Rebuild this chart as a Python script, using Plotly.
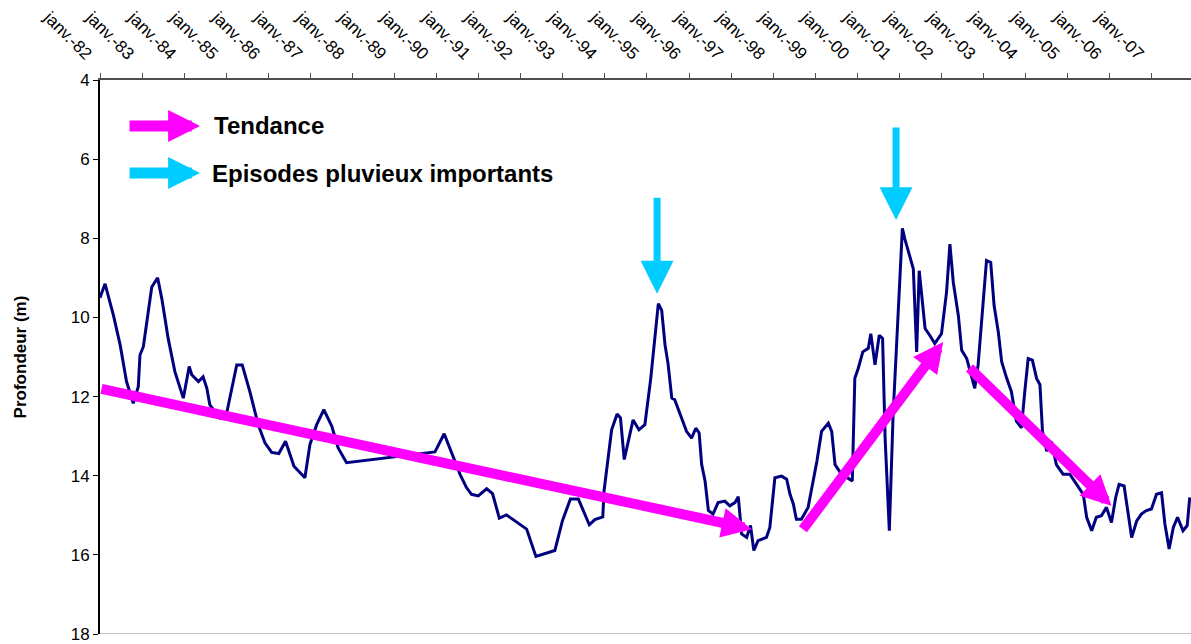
import plotly.graph_objects as go

# ---- data (decimal year, depth in m) ----
years = [
    1982.00, 1982.12, 1982.32, 1982.48, 1982.63, 1982.79, 1982.91, 1982.95, 1983.03, 1983.23,
    1983.37, 1983.47, 1983.62, 1983.78, 1983.98, 1984.12, 1984.18, 1984.34, 1984.45, 1984.54,
    1984.61, 1984.85, 1985.01, 1985.25, 1985.38, 1985.56, 1985.76, 1985.92, 1986.08, 1986.25,
    1986.41, 1986.61, 1986.87, 1986.99, 1987.15, 1987.32, 1987.51, 1987.66, 1987.86, 1988.89,
    1989.45, 1989.96, 1990.18, 1990.36, 1990.56, 1990.71, 1990.83, 1990.99, 1991.19, 1991.33,
    1991.49, 1991.66, 1991.90, 1992.14, 1992.36, 1992.81, 1992.99, 1993.18, 1993.37, 1993.63,
    1993.76, 1993.95, 1993.98, 1994.08, 1994.16, 1994.29, 1994.37, 1994.46, 1994.55, 1994.67,
    1994.81, 1994.95, 1995.09, 1995.27, 1995.35, 1995.43, 1995.50, 1995.59, 1995.66, 1995.82,
    1995.94, 1996.06, 1996.16, 1996.24, 1996.30, 1996.38, 1996.46, 1996.57, 1996.69, 1996.85,
    1996.97, 1997.09, 1997.17, 1997.25, 1997.37, 1997.46, 1997.54, 1997.64, 1997.84, 1997.92,
    1998.04, 1998.20, 1998.32, 1998.40, 1998.48, 1998.55, 1998.67, 1998.83, 1998.95, 1999.04,
    1999.15, 1999.31, 1999.39, 1999.47, 1999.62, 1999.82, 1999.88, 1999.94, 2000.02, 2000.13,
    2000.26, 2000.32, 2000.42, 2000.52, 2000.60, 2000.66, 2000.76, 2000.85, 2000.95, 2001.07,
    2001.13, 2001.33, 2001.41, 2001.47, 2001.53, 2001.61, 2001.72, 2001.84, 2002.00, 2002.12,
    2002.20, 2002.28, 2002.40, 2002.48, 2002.60, 2002.67, 2002.79, 2002.87, 2002.98, 2003.07,
    2003.17, 2003.25, 2003.35, 2003.43, 2003.55, 2003.66, 2003.78, 2003.90, 2003.98, 2004.06,
    2004.16, 2004.26, 2004.34, 2004.40, 2004.50, 2004.61, 2004.73, 2004.89, 2005.05, 2005.21,
    2005.37, 2005.45, 2005.57, 2005.68, 2005.80, 2005.92, 2006.04, 2006.14, 2006.22, 2006.34,
    2006.41, 2006.52, 2006.64, 2006.75, 2006.87, 2006.99, 2007.11, 2007.23, 2007.31, 2007.41,
    2007.51, 2007.61, 2007.74, 2007.84, 2007.90,
]
depth = [
    9.50, 9.15, 9.95, 10.70, 11.62, 12.17, 11.75, 10.95, 10.74, 9.23,
    9.00, 9.53, 10.53, 11.37, 12.04, 11.24, 11.45, 11.62, 11.50, 11.79,
    12.21, 12.54, 12.42, 11.20, 11.20, 11.87, 12.71, 13.17, 13.41, 13.44,
    13.13, 13.76, 14.05, 13.21, 12.71, 12.33, 12.75, 13.30, 13.67, 13.53,
    13.46, 13.40, 12.94, 13.42, 13.97, 14.30, 14.47, 14.51, 14.33, 14.45,
    15.07, 14.99, 15.18, 15.35, 16.04, 15.89, 15.14, 14.59, 14.59, 15.24,
    15.11, 15.04, 14.38, 13.55, 12.84, 12.44, 12.54, 13.59, 13.13, 12.59,
    12.84, 12.71, 11.54, 9.65, 9.82, 10.70, 11.16, 12.04, 12.08, 12.54,
    12.88, 13.05, 12.80, 12.92, 13.72, 14.13, 14.88, 14.97, 14.68, 14.64,
    14.76, 14.68, 14.53, 15.47, 15.56, 15.26, 15.89, 15.64, 15.56, 15.31,
    14.05, 14.01, 14.09, 14.47, 14.72, 15.10, 15.10, 14.80, 14.13, 13.63,
    12.88, 12.67, 12.88, 13.72, 13.96, 14.09, 14.13, 11.54, 11.29, 10.87,
    10.78, 10.41, 11.20, 10.45, 10.53, 13.05, 15.39, 12.46, 10.37, 7.75,
    8.02, 8.77, 10.87, 8.82, 9.44, 10.28, 10.45, 10.66, 10.41, 9.36,
    8.15, 9.11, 9.95, 10.83, 11.04, 11.33, 11.79, 11.20, 9.70, 8.56,
    8.61, 9.70, 10.37, 11.12, 11.54, 11.87, 12.62, 12.79, 11.87, 11.04,
    11.08, 11.54, 11.70, 12.88, 13.38, 13.13, 13.72, 13.96, 13.96, 14.22,
    14.47, 15.05, 15.39, 15.05, 15.01, 14.80, 15.18, 14.55, 14.22, 14.26,
    14.80, 15.56, 15.14, 14.97, 14.88, 14.84, 14.47, 14.43, 15.22, 15.85,
    15.31, 15.05, 15.39, 15.26, 14.55,
]

tick_years = list(range(1982, 2008))
tick_labels = ["janv.-%02d" % (y % 100) for y in tick_years]

# trend arrows: (tail year, tail depth, tip year, tip depth)
trend_tail_x = [1982.00, 1998.68, 2002.63]
trend_tail_y = [11.80, 15.39, 11.24]
trend_tip_x = [1997.49, 2002.04, 2006.04]
trend_tip_y = [15.35, 10.62, 14.76]

# rainfall-event arrows
rain_x = [1995.24, 2000.92]
rain_tail_y = [6.94, 5.16]
rain_tip_y = [9.40, 7.54]

MAGENTA = "#FF00FF"
CYAN = "#00CCFF"
FONT = "Liberation Sans, Arial, sans-serif"

fig = go.Figure()
fig.add_trace(go.Scatter(
    x=years, y=depth, mode="lines",
    line=dict(color="#000080", width=3),
    showlegend=False, hoverinfo="skip",
))

annotations = []
for tx, ty, hx, hy in zip(trend_tail_x, trend_tail_y, trend_tip_x, trend_tip_y):
    annotations.append(dict(
        x=hx, y=hy, ax=tx, ay=ty, xref="x", yref="y", axref="x", ayref="y",
        showarrow=True, arrowhead=2, arrowwidth=10, arrowsize=0.6,
        arrowcolor=MAGENTA, text="",
    ))
for rx, ty, hy in zip(rain_x, rain_tail_y, rain_tip_y):
    annotations.append(dict(
        x=rx, y=hy, ax=rx, ay=ty, xref="x", yref="y", axref="x", ayref="y",
        showarrow=True, arrowhead=2, arrowwidth=7, arrowsize=0.94,
        arrowcolor=CYAN, text="",
    ))

# legend-like arrows and texts
annotations.append(dict(x=0.0917, y=0.917, xref="paper", yref="paper", ax=-72, ay=0,
                        showarrow=True, arrowhead=2, arrowwidth=11, arrowsize=0.58,
                        arrowcolor=MAGENTA, text=""))
annotations.append(dict(x=0.0917, y=0.832, xref="paper", yref="paper", ax=-72, ay=0,
                        showarrow=True, arrowhead=2, arrowwidth=11, arrowsize=0.58,
                        arrowcolor=CYAN, text=""))
annotations.append(dict(x=0.1027, y=0.917, xref="paper", yref="paper", xanchor="left",
                        yanchor="middle", showarrow=False, text="<b>Tendance</b>",
                        font=dict(family=FONT, size=24, color="black")))
annotations.append(dict(x=0.1008, y=0.832, xref="paper", yref="paper", xanchor="left",
                        yanchor="middle", showarrow=False,
                        text="<b>Episodes pluvieux importants</b>",
                        font=dict(family=FONT, size=24, color="black")))

fig.update_layout(
    width=1191, height=644,
    margin=dict(l=100, r=0, t=80, b=7),
    paper_bgcolor="white", plot_bgcolor="white",
    font=dict(family=FONT, color="black"),
    annotations=annotations,
    xaxis=dict(
        side="top", range=[1982, 2007.93],
        tickvals=tick_years, ticktext=tick_labels, tickangle=45,
        tickfont=dict(size=17, family=FONT, color="black"),
        ticklabelshift=-9, ticklabelstandoff=3,
        showline=True, linecolor="#4d4d4d", linewidth=2,
        ticks="outside", ticklen=5, tickcolor="#4d4d4d", tickwidth=1,
        showgrid=False, zeroline=False,
    ),
    yaxis=dict(
        range=[18, 4], tickvals=[4, 6, 8, 10, 12, 14, 16, 18],
        tickfont=dict(size=17, family=FONT, color="black"),
        ticklabeloverflow="allow",
        showline=True, linecolor="black", linewidth=2,
        ticks="outside", ticklen=5, tickcolor="black", tickwidth=1,
        showgrid=False, zeroline=False,
        title=dict(text="<b>Profondeur (m)</b>", font=dict(size=17, family=FONT),
                   standoff=40),
    ),
    shapes=[dict(type="line", xref="paper", yref="y", x0=0, x1=1, y0=18, y1=18,
                 line=dict(color="#888888", width=1))],
)

fig.write_html(
    "out.html",
    config={"displayModeBar": False},
    post_script="document.body.style.margin='0px';document.body.style.overflow='hidden';",
)
